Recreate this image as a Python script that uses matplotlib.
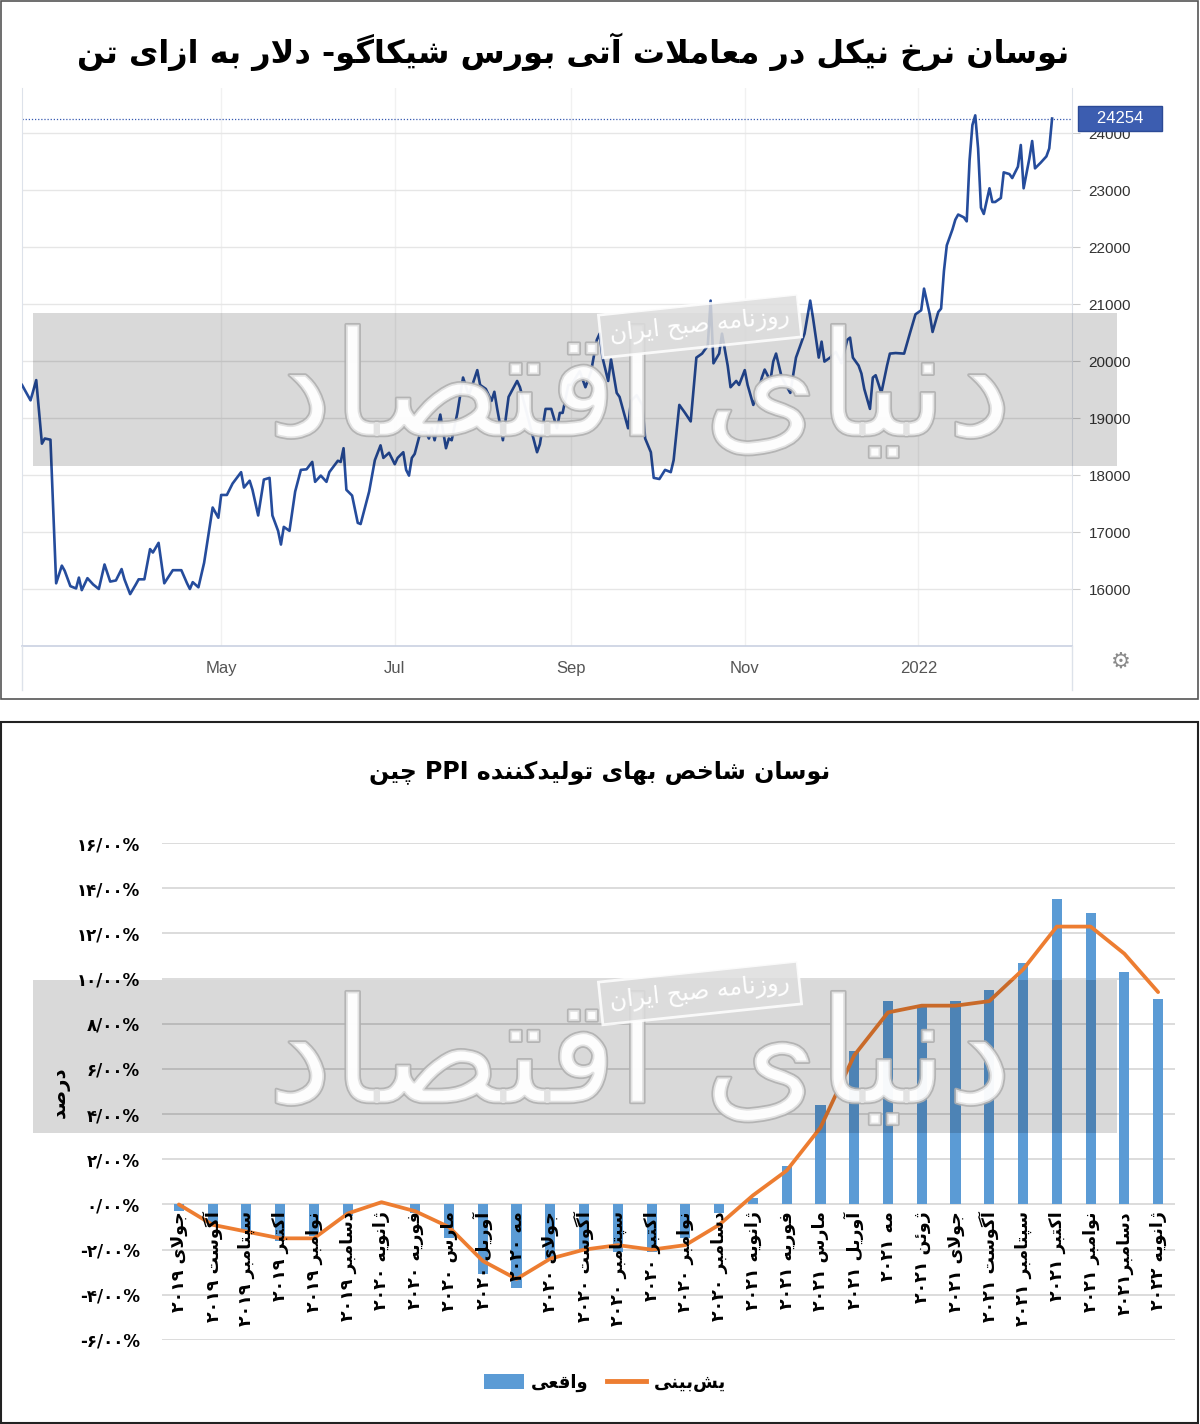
import re
import matplotlib
matplotlib.use('Agg')
import matplotlib.pyplot as plt
import matplotlib.patheffects as pe
import matplotlib.transforms as mtransforms
from matplotlib.patches import Rectangle, Patch
from matplotlib.lines import Line2D
import numpy as np
import pandas as pd

plt.rcParams['font.family'] = ['DejaVu Sans']

# ---- data: nickel futures (USD / ton) ----
nickel_dates = [
    '2021-02-20', '2021-02-23', '2021-02-25', '2021-02-27', '2021-02-28',
    '2021-03-02', '2021-03-04', '2021-03-06', '2021-03-07', '2021-03-09', '2021-03-11', '2021-03-12',
    '2021-03-13', '2021-03-15', '2021-03-17', '2021-03-19', '2021-03-21', '2021-03-23', '2021-03-25',
    '2021-03-27', '2021-03-28', '2021-03-30',
    '2021-04-01', '2021-04-02', '2021-04-04', '2021-04-06', '2021-04-07', '2021-04-09', '2021-04-11',
    '2021-04-14', '2021-04-17', '2021-04-19', '2021-04-20', '2021-04-21', '2021-04-23', '2021-04-25',
    '2021-04-28', '2021-04-30',
    '2021-05-01', '2021-05-03', '2021-05-05', '2021-05-08', '2021-05-09', '2021-05-11', '2021-05-12',
    '2021-05-14', '2021-05-16', '2021-05-18', '2021-05-19', '2021-05-21', '2021-05-22', '2021-05-23',
    '2021-05-25', '2021-05-27', '2021-05-29', '2021-05-31',
    '2021-06-02', '2021-06-03', '2021-06-05', '2021-06-07', '2021-06-08', '2021-06-11', '2021-06-12',
    '2021-06-13', '2021-06-14', '2021-06-16', '2021-06-18', '2021-06-19', '2021-06-22', '2021-06-24',
    '2021-06-26', '2021-06-27', '2021-06-29',
    '2021-07-01', '2021-07-02', '2021-07-04', '2021-07-05', '2021-07-06', '2021-07-07', '2021-07-08',
    '2021-07-10', '2021-07-12', '2021-07-13', '2021-07-14', '2021-07-15', '2021-07-17', '2021-07-19',
    '2021-07-20', '2021-07-21', '2021-07-23', '2021-07-25', '2021-07-27', '2021-07-28', '2021-07-30',
    '2021-07-31',
    '2021-08-02', '2021-08-04', '2021-08-05', '2021-08-06', '2021-08-08', '2021-08-10', '2021-08-13',
    '2021-08-14', '2021-08-16', '2021-08-20', '2021-08-21', '2021-08-23', '2021-08-25', '2021-08-27',
    '2021-08-28', '2021-08-29', '2021-08-31',
    '2021-09-01', '2021-09-04', '2021-09-06', '2021-09-08', '2021-09-10', '2021-09-11', '2021-09-12',
    '2021-09-14', '2021-09-15', '2021-09-17', '2021-09-18', '2021-09-21', '2021-09-22', '2021-09-24',
    '2021-09-26', '2021-09-27', '2021-09-29', '2021-09-30',
    '2021-10-02', '2021-10-04', '2021-10-06', '2021-10-07', '2021-10-09', '2021-10-11', '2021-10-13',
    '2021-10-15', '2021-10-17', '2021-10-19', '2021-10-20', '2021-10-21', '2021-10-23', '2021-10-24',
    '2021-10-26', '2021-10-27', '2021-10-29', '2021-10-30',
    '2021-11-01', '2021-11-02', '2021-11-04', '2021-11-06', '2021-11-07', '2021-11-08', '2021-11-10',
    '2021-11-11', '2021-11-12', '2021-11-14', '2021-11-17', '2021-11-19', '2021-11-21', '2021-11-22',
    '2021-11-24', '2021-11-25', '2021-11-27', '2021-11-28', '2021-11-29',
    '2021-12-01', '2021-12-03', '2021-12-05', '2021-12-07', '2021-12-08', '2021-12-09', '2021-12-11',
    '2021-12-12', '2021-12-13', '2021-12-15', '2021-12-16', '2021-12-17', '2021-12-19', '2021-12-21',
    '2021-12-22', '2021-12-24', '2021-12-27', '2021-12-29', '2021-12-31',
    '2022-01-02', '2022-01-03', '2022-01-05', '2022-01-06', '2022-01-08', '2022-01-09', '2022-01-10',
    '2022-01-11', '2022-01-13', '2022-01-14', '2022-01-15', '2022-01-17', '2022-01-18', '2022-01-19',
    '2022-01-20', '2022-01-21', '2022-01-22', '2022-01-23', '2022-01-24', '2022-01-26', '2022-01-27',
    '2022-01-28', '2022-01-30', '2022-01-31',
    '2022-02-02', '2022-02-03', '2022-02-05', '2022-02-06', '2022-02-07', '2022-02-09', '2022-02-10',
    '2022-02-11', '2022-02-13', '2022-02-15', '2022-02-16', '2022-02-17',
]
nickel_prices = [
    19580, 19310, 19665, 18550, 18640,
    18620, 16100, 16410, 16320, 16050, 16010, 16200, 15980, 16190, 16080, 16000, 16430, 16130, 16150,
    16350, 16170, 15910,
    16080, 16170, 16170, 16700, 16640, 16810, 16100, 16330, 16330, 16100, 16000, 16120, 16030, 16460,
    17430, 17250,
    17650, 17650, 17850, 18050, 17780, 17900, 17740, 17290, 17920, 17950, 17290, 17020, 16780, 17090,
    17020, 17710, 18090, 18100,
    18230, 17880, 17990, 17880, 18050, 18250, 18230, 18470, 17740, 17640, 17160, 17140, 17710, 18260,
    18520, 18300, 18390,
    18190, 18300, 18400, 18090, 17990, 18300, 18370, 18750, 18750, 18640, 18820, 18610, 19060, 18470,
    18640, 18610, 19090, 19710, 19400, 19540, 19840, 19580,
    19510, 19300, 19460, 19160, 18610, 19370, 19650, 19540, 19160, 18400, 18540, 19160, 19160, 18820,
    19090, 19090, 19580,
    19580, 19820, 19540, 19820, 20370, 20480, 20060, 19650, 20030, 19440, 19370, 18820, 19300, 19400,
    19230, 18640, 18400, 17950,
    17930, 18090, 18050, 18260, 19230, 19090, 18940, 20060, 20130, 20270, 21060, 19960, 20130, 20480,
    19920, 19540, 19650, 19580,
    19840, 19580, 19230, 19510, 19710, 19850, 19650, 19990, 20130, 19710, 19440, 20060, 20340, 20480,
    21060, 20750, 20060, 20340, 19990,
    20060, 20160, 19960, 20370, 20410, 20060, 19920, 19780, 19510, 19160, 19710, 19750, 19440, 19920,
    20130, 20140, 20130, 20480, 20820,
    20890, 21270, 20820, 20510, 20860, 20920, 21580, 22030, 22310, 22480, 22570, 22520, 22450, 23520,
    24140, 24310, 23730, 22690, 22580, 23030, 22790, 22790, 22860, 23310,
    23280, 23210, 23410, 23790, 23030, 23550, 23860, 23380, 23480, 23590, 23730, 24254,
]
nickel_ticks = ['2021-05-01', '2021-07-01', '2021-09-01', '2021-11-01', '2022-01-01']
nickel_tick_labels = ['May', 'Jul', 'Sep', 'Nov', '2022']

# ---- data: China PPI (%) ----
months = [
    'جولای ۲۰۱۹', 'آگوست ۲۰۱۹', 'سپتامبر ۲۰۱۹', 'اکتبر ۲۰۱۹', 'نوامبر ۲۰۱۹', 'دسامبر ۲۰۱۹',
    'ژانویه ۲۰۲۰', 'فوریه ۲۰۲۰', 'مارس ۲۰۲۰', 'آوریل ۲۰۲۰', 'مه ۲۰۲۰', 'جولای ۲۰۲۰',
    'آگوست ۲۰۲۰', 'سپتامبر ۲۰۲۰', 'اکتبر ۲۰۲۰', 'نوامبر ۲۰۲۰', 'دسامبر ۲۰۲۰', 'ژانویه ۲۰۲۱',
    'فوریه ۲۰۲۱', 'مارس ۲۰۲۱', 'آوریل ۲۰۲۱', 'مه ۲۰۲۱', 'ژوئن ۲۰۲۱', 'جولای ۲۰۲۱',
    'آگوست ۲۰۲۱', 'سپتامبر ۲۰۲۱', 'اکتبر ۲۰۲۱', 'نوامبر ۲۰۲۱', 'دسامبر۲۰۲۱', 'ژانویه ۲۰۲۲',
]
ppi_actual = [-0.3, -0.8, -1.2, -1.6, -1.4, -0.5, 0.1, -0.4, -1.5, -3.1, -3.7, -2.4, -2.0, -2.1, -2.1,
              -1.5, -0.4, 0.3, 1.7, 4.4, 6.8, 9.0, 8.8, 9.0, 9.5, 10.7, 13.5, 12.9, 10.3, 9.1]
ppi_forecast = [0.0, -0.9, -1.2, -1.5, -1.5, -0.4, 0.1, -0.3, -1.0, -2.5, -3.3, -2.4, -2.0, -1.8, -2.0,
                -1.8, -0.9, 0.4, 1.5, 3.4, 6.6, 8.5, 8.8, 8.8, 9.0, 10.4, 12.3, 12.3, 11.1, 9.4]
ppi_ticks = [-6, -4, -2, 0, 2, 4, 6, 8, 10, 12, 14, 16]

title_top = 'نوسان نرخ نیکل در معاملات آتی بورس شیکاگو- دلار به ازای تن'
title_bottom = 'نوسان شاخص بهای تولیدکننده PPI چین'
ylabel_bottom = 'درصد'
legend_labels = ['واقعی', 'یش\u200cبینی']
wm_big = 'دنیای اقتصاد'
wm_small = 'روزنامه صبح ایران'

# ---- simple persian shaping (matplotlib has no arabic shaping) ----
FORMS = {
    '\u0627': ('\uFE8D', '\uFE8E'), '\u0622': ('\uFE81', '\uFE82'),
    '\u0628': ('\uFE8F', '\uFE90', '\uFE91', '\uFE92'), '\u067e': ('\uFB56', '\uFB57', '\uFB58', '\uFB59'),
    '\u062a': ('\uFE95', '\uFE96', '\uFE97', '\uFE98'), '\u062c': ('\uFE9D', '\uFE9E', '\uFE9F', '\uFEA0'),
    '\u0686': ('\uFB7A', '\uFB7B', '\uFB7C', '\uFB7D'), '\u062d': ('\uFEA1', '\uFEA2', '\uFEA3', '\uFEA4'),
    '\u062e': ('\uFEA5', '\uFEA6', '\uFEA7', '\uFEA8'), '\u062f': ('\uFEA9', '\uFEAA'),
    '\u0631': ('\uFEAD', '\uFEAE'), '\u0632': ('\uFEAF', '\uFEB0'), '\u0698': ('\uFB8A', '\uFB8B'),
    '\u0633': ('\uFEB1', '\uFEB2', '\uFEB3', '\uFEB4'), '\u0634': ('\uFEB5', '\uFEB6', '\uFEB7', '\uFEB8'),
    '\u0635': ('\uFEB9', '\uFEBA', '\uFEBB', '\uFEBC'), '\u0639': ('\uFEC9', '\uFECA', '\uFECB', '\uFECC'),
    '\u0641': ('\uFED1', '\uFED2', '\uFED3', '\uFED4'), '\u0642': ('\uFED5', '\uFED6', '\uFED7', '\uFED8'),
    '\u06a9': ('\uFB8E', '\uFB8F', '\uFB90', '\uFB91'), '\u0643': ('\uFB8E', '\uFB8F', '\uFB90', '\uFB91'),
    '\u06af': ('\uFB92', '\uFB93', '\uFB94', '\uFB95'), '\u0644': ('\uFEDD', '\uFEDE', '\uFEDF', '\uFEE0'),
    '\u0645': ('\uFEE1', '\uFEE2', '\uFEE3', '\uFEE4'), '\u0646': ('\uFEE5', '\uFEE6', '\uFEE7', '\uFEE8'),
    '\u0647': ('\uFEE9', '\uFEEA', '\uFEEB', '\uFEEC'), '\u0648': ('\uFEED', '\uFEEE'),
    '\u06cc': ('\uFBFC', '\uFBFD', '\uFBFE', '\uFBFF'), '\u064a': ('\uFBFC', '\uFBFD', '\uFBFE', '\uFBFF'),
    '\u0626': ('\uFE89', '\uFE8A', '\uFE8B', '\uFE8C'),
}
LAM_ALEF = {'\u0627': ('\uFEFB', '\uFEFC'), '\u0622': ('\uFEF5', '\uFEF6')}
LTR_RUN = r'[A-Za-z0-9\u06f0-\u06f9\u0660-\u0669]+'


def shape(s):
    out = []
    i = 0
    while i < len(s):
        c = s[i]
        if c not in FORMS:
            if c != '\u200c':
                out.append(c)
            i += 1
            continue
        prev = s[i - 1] if i > 0 else ''
        jp = prev in FORMS and len(FORMS[prev]) == 4
        if c == '\u0644' and i + 1 < len(s) and s[i + 1] in LAM_ALEF:
            out.append(LAM_ALEF[s[i + 1]][1 if jp else 0])
            i += 2
            continue
        nxt = s[i + 1] if i + 1 < len(s) else ''
        jn = len(FORMS[c]) == 4 and nxt in FORMS
        f = FORMS[c]
        out.append(f[3] if jp and jn else f[1] if jp else f[2] if jn else f[0])
        i += 1
    return ''.join(out)


def fa(text):
    s = shape(text)
    runs = re.findall(LTR_RUN + '|[^A-Za-z0-9\u06f0-\u06f9\u0660-\u0669]+', s)
    return ''.join(r if re.fullmatch(LTR_RUN, r) else r[::-1] for r in reversed(runs))


def fa_digits(s):
    return s.translate(str.maketrans('0123456789', '۰۱۲۳۴۵۶۷۸۹'))


W, H = 1200, 1424


def fx(x):
    return x / W


def fy(y):
    return 1 - y / H


fig = plt.figure(figsize=(12, 14.24), dpi=100)

# panel frames
fig.add_artist(Rectangle((fx(1), fy(699)), 1197 / W, 698 / H, transform=fig.transFigure,
                         fill=False, edgecolor='#555555', lw=1.2))
fig.add_artist(Rectangle((fx(1), fy(1423)), 1197 / W, 701 / H, transform=fig.transFigure,
                         fill=False, edgecolor='#222222', lw=1.5))

# ================= top: nickel =================
fig.text(fx(573), fy(52), fa(title_top), ha='center', va='center', fontsize=23, fontweight='bold')

ax1 = fig.add_axes([fx(22), fy(646), (1072 - 22) / W, (646 - 88) / H])
dates = pd.to_datetime(nickel_dates)
ax1.plot(dates, nickel_prices, color='#254c9c', lw=1.9, zorder=3)
ax1.set_xlim(pd.Timestamp('2021-02-20'), pd.Timestamp('2022-02-24'))
ax1.set_ylim(15000, 24790)
ax1.yaxis.tick_right()
ax1.set_yticks(range(16000, 24001, 1000))
ax1.set_xticks(pd.to_datetime(nickel_ticks))
ax1.set_xticklabels(nickel_tick_labels)
ax1.grid(axis='y', color='#e6e6e6', lw=1)
ax1.grid(axis='x', color='#f1f1f1', lw=1)
ax1.tick_params(axis='y', length=6, color='#cccccc', pad=6, labelsize=11, labelcolor='#333333')
ax1.tick_params(axis='x', length=0, pad=11, labelsize=12, labelcolor='#555555')
for lab in ax1.get_xticklabels() + ax1.get_yticklabels():
    lab.set_fontfamily('Liberation Sans')
ax1.spines['top'].set_visible(False)
for s in ['left', 'right']:
    ax1.spines[s].set_color('#dde2ea')
ax1.spines['bottom'].set_color('#c9d1e2')
ax1.spines['bottom'].set_linewidth(1.2)

last = nickel_prices[-1]
ax1.axhline(last, color='#3558b0', ls=(0, (1, 1.5)), lw=0.9, zorder=2)
ax1.annotate('   %d   ' % last, xy=(1.0, last), xycoords=mtransforms.blended_transform_factory(ax1.transAxes, ax1.transData),
             xytext=(8, 0), textcoords='offset points', ha='left', va='center', color='white', fontsize=12,
             family='Liberation Sans', annotation_clip=False, zorder=6,
             bbox=dict(boxstyle='square,pad=0.3', facecolor='#3c5db0', edgecolor='#2c4a96'))
fig.text(fx(1121), fy(662), '\u2699', ha='center', va='center', fontsize=16, color='#8a8a8a')
for xx in (22, 1072):
    fig.add_artist(Line2D([fx(xx), fx(xx)], [fy(646), fy(690)], transform=fig.transFigure, color='#dde2ea', lw=1))

# ================= bottom: PPI =================
fig.text(fx(600), fy(773), fa(title_bottom), ha='center', va='center', fontsize=17, fontweight='bold')

ax2 = fig.add_axes([fx(162), fy(1340), (1175 - 162) / W, (1340 - 843) / H])
x = np.arange(len(months))
ax2.bar(x, ppi_actual, width=0.3, color='#5b9bd5', zorder=2)
ax2.plot(x, ppi_forecast, color='#ed7d31', lw=2.7, zorder=3, solid_joinstyle='round', solid_capstyle='round')
ax2.set_xlim(-0.5, len(months) - 0.5)
ax2.set_ylim(-6, 16)
ax2.set_yticks(ppi_ticks)
ax2.set_yticklabels([('-' if v < 0 else '') + fa_digits('%d/00%%' % abs(v)) for v in ppi_ticks],
                    fontweight='bold', fontsize=12)
ax2.tick_params(axis='y', length=0, pad=16)
ax2.set_xticks([])
ax2.grid(axis='y', color='#d9d9d9', lw=1.3, zorder=0)
ax2.set_axisbelow(True)
for s in ax2.spines.values():
    s.set_visible(False)

for i, lab in enumerate(months):
    ax2.annotate(fa(lab), xy=(i, 0), xytext=(0, -5), textcoords='offset points', rotation=90,
                 ha='center', va='top', fontsize=12.5, fontweight='bold', zorder=4)

fig.text(fx(60), fy(1092), fa(ylabel_bottom), rotation=90, ha='center', va='center', fontsize=14, fontweight='bold')

handles = [Patch(facecolor='#5b9bd5'), Line2D([0], [0], color='#ed7d31', lw=3.5)]
ax2.legend(handles, [fa(t) for t in legend_labels], loc='center', bbox_to_anchor=(fx(605), fy(1383)),
           bbox_transform=fig.transFigure, ncol=2, frameon=False, handlelength=2.2, handleheight=0.9,
           columnspacing=1.0, handletextpad=0.4, prop={'weight': 'bold', 'size': 13})


# ================= watermark (same in both panels) =================
def watermark(dy):
    fig.add_artist(Rectangle((fx(33), fy(466 + dy)), (1117 - 33) / W, 153 / H, transform=fig.transFigure,
                             facecolor='black', alpha=0.15, edgecolor='none', zorder=5))
    fig.text(fx(640), fy(395 + dy), fa(wm_big), ha='center', va='center', fontsize=105,
             color='white', alpha=0.6, zorder=6,
             path_effects=[pe.Stroke(linewidth=2.5, foreground='#b0b0b0', alpha=0.9), pe.Normal()])
    fig.text(fx(700), fy(326 + dy), fa(wm_small), ha='center', va='center', fontsize=17, color='white',
             rotation=6, zorder=7,
             bbox=dict(boxstyle='square,pad=0.4', facecolor='#dddddd', edgecolor='white', lw=2, alpha=0.85))


watermark(0)
watermark(667)

fig.savefig('out.png', dpi=100)
